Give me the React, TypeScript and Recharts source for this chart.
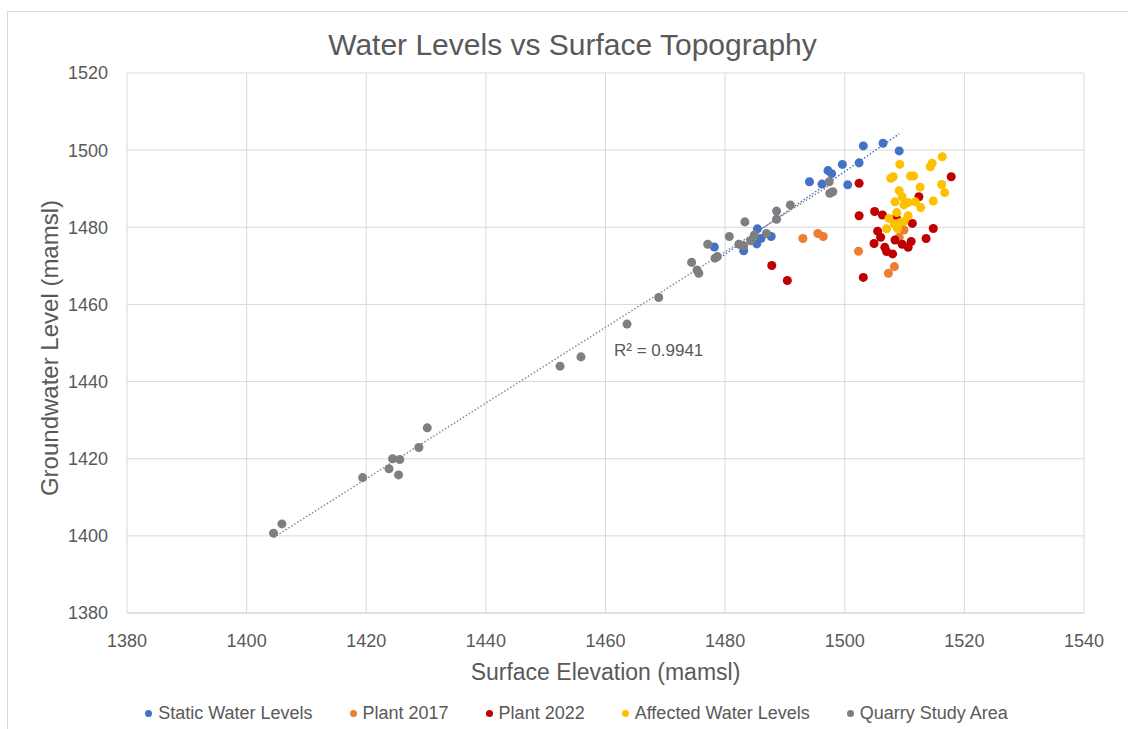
import React from "react";
import {
  ScatterChart,
  Scatter,
  XAxis,
  YAxis,
  ZAxis,
  CartesianGrid,
  ReferenceLine,
} from "recharts";

type Pt = { x: number; y: number };

const xTicks = [1380, 1400, 1420, 1440, 1460, 1480, 1500, 1520, 1540];
const yTicks = [1380, 1400, 1420, 1440, 1460, 1480, 1500, 1520];

const staticWaterLevels: Pt[] = [
  { x: 1478.2, y: 1474.9 }, { x: 1483.1, y: 1473.9 }, { x: 1485.3, y: 1475.7 },
  { x: 1486.0, y: 1477.1 }, { x: 1485.4, y: 1479.6 }, { x: 1487.7, y: 1477.6 },
  { x: 1494.1, y: 1491.8 }, { x: 1496.2, y: 1491.2 }, { x: 1497.2, y: 1494.7 },
  { x: 1497.8, y: 1493.9 }, { x: 1499.6, y: 1496.3 }, { x: 1500.5, y: 1491.0 },
  { x: 1502.4, y: 1496.7 }, { x: 1503.1, y: 1501.1 }, { x: 1506.4, y: 1501.8 },
  { x: 1509.1, y: 1499.8 },
];

const plant2017: Pt[] = [
  { x: 1493.0, y: 1477.1 }, { x: 1495.5, y: 1478.4 }, { x: 1496.4, y: 1477.6 },
  { x: 1502.3, y: 1473.8 }, { x: 1508.3, y: 1469.8 }, { x: 1507.3, y: 1468.1 },
  { x: 1509.9, y: 1479.3 }, { x: 1509.1, y: 1477.4 },
];

const plant2022: Pt[] = [
  { x: 1487.8, y: 1470.1 }, { x: 1490.4, y: 1466.2 }, { x: 1502.4, y: 1491.4 },
  { x: 1517.8, y: 1493.1 }, { x: 1512.4, y: 1487.9 }, { x: 1502.4, y: 1483.0 },
  { x: 1505.0, y: 1484.1 }, { x: 1506.3, y: 1483.2 }, { x: 1508.6, y: 1482.5 },
  { x: 1511.3, y: 1481.0 }, { x: 1514.8, y: 1479.7 }, { x: 1505.5, y: 1479.0 },
  { x: 1506.0, y: 1477.4 }, { x: 1508.4, y: 1476.7 }, { x: 1504.9, y: 1475.8 },
  { x: 1509.6, y: 1475.6 }, { x: 1511.1, y: 1476.3 }, { x: 1510.6, y: 1474.8 },
  { x: 1513.6, y: 1477.1 }, { x: 1506.7, y: 1474.8 }, { x: 1507.0, y: 1473.7 },
  { x: 1508.0, y: 1473.1 }, { x: 1503.1, y: 1467.0 },
];

const affectedWaterLevels: Pt[] = [
  { x: 1516.3, y: 1498.3 }, { x: 1509.2, y: 1496.3 }, { x: 1514.6, y: 1496.6 },
  { x: 1514.3, y: 1495.7 }, { x: 1507.7, y: 1492.7 }, { x: 1508.1, y: 1493.1 },
  { x: 1511.0, y: 1493.3 }, { x: 1511.5, y: 1493.3 }, { x: 1512.6, y: 1490.4 },
  { x: 1516.2, y: 1491.1 }, { x: 1516.7, y: 1489.0 }, { x: 1509.1, y: 1489.5 },
  { x: 1509.6, y: 1487.9 }, { x: 1510.6, y: 1486.4 }, { x: 1511.8, y: 1486.6 },
  { x: 1508.4, y: 1486.6 }, { x: 1514.8, y: 1486.8 }, { x: 1512.7, y: 1485.1 },
  { x: 1509.9, y: 1485.8 }, { x: 1508.7, y: 1483.8 }, { x: 1510.6, y: 1483.0 },
  { x: 1507.4, y: 1482.3 }, { x: 1508.3, y: 1480.9 }, { x: 1509.2, y: 1481.2 },
  { x: 1509.9, y: 1481.5 }, { x: 1507.0, y: 1479.6 }, { x: 1508.8, y: 1479.7 },
];

const quarryStudyArea: Pt[] = [
  { x: 1404.5, y: 1400.7 }, { x: 1405.9, y: 1403.1 }, { x: 1419.4, y: 1415.1 },
  { x: 1423.8, y: 1417.4 }, { x: 1424.4, y: 1420.0 }, { x: 1425.6, y: 1419.8 },
  { x: 1425.4, y: 1415.8 }, { x: 1428.8, y: 1422.9 }, { x: 1430.2, y: 1428.0 },
  { x: 1452.4, y: 1444.0 }, { x: 1455.9, y: 1446.4 }, { x: 1463.6, y: 1454.9 },
  { x: 1468.9, y: 1461.8 }, { x: 1474.4, y: 1470.9 }, { x: 1475.3, y: 1468.9 },
  { x: 1475.6, y: 1468.1 }, { x: 1477.1, y: 1475.6 }, { x: 1478.3, y: 1472.0 },
  { x: 1478.7, y: 1472.4 }, { x: 1480.7, y: 1477.6 }, { x: 1482.3, y: 1475.6 },
  { x: 1483.1, y: 1475.2 }, { x: 1484.3, y: 1476.5 }, { x: 1484.9, y: 1478.0 },
  { x: 1486.9, y: 1478.4 }, { x: 1483.3, y: 1481.4 }, { x: 1488.6, y: 1482.1 },
  { x: 1488.6, y: 1484.2 }, { x: 1490.9, y: 1485.8 }, { x: 1497.4, y: 1491.8 },
  { x: 1497.5, y: 1488.8 }, { x: 1498.0, y: 1489.2 },
];

const series = [
  { name: "Static Water Levels", color: "#4472C4", data: staticWaterLevels },
  { name: "Plant 2017", color: "#ED7D31", data: plant2017 },
  { name: "Plant 2022", color: "#C00000", data: plant2022 },
  { name: "Affected Water Levels", color: "#FFC000", data: affectedWaterLevels },
  { name: "Quarry Study Area", color: "#7F7F7F", data: quarryStudyArea },
];

function fit(data: Pt[]) {
  const n = data.length;
  const mx = data.reduce((s, p) => s + p.x, 0) / n;
  const my = data.reduce((s, p) => s + p.y, 0) / n;
  let sxy = 0;
  let sxx = 0;
  data.forEach((p) => {
    sxy += (p.x - mx) * (p.y - my);
    sxx += (p.x - mx) * (p.x - mx);
  });
  const b = sxy / sxx;
  const a = my - b * mx;
  const xs = data.map((p) => p.x);
  const x0 = Math.min(...xs);
  const x1 = Math.max(...xs);
  return [
    { x: x0, y: a + b * x0 },
    { x: x1, y: a + b * x1 },
  ];
}

const grayTrend = fit(quarryStudyArea);
const blueTrend = fit(staticWaterLevels);

const FONT = "'Liberation Sans', Arial, sans-serif";
const TEXT = "#595959";

export default function App() {
  return (
    <div
      style={{
        position: "fixed",
        left: 0,
        top: 0,
        width: 1128,
        height: 729,
        overflow: "hidden",
        background: "#fff",
        fontFamily: FONT,
      }}
    >
      <div
        style={{
          position: "absolute",
          left: 7,
          top: 11,
          width: 1200,
          height: 800,
          border: "1px solid #d9d9d9",
        }}
      />
      <div style={{ position: "absolute", left: 0, top: 0 }}>
        <ScatterChart
          width={1128}
          height={729}
          margin={{ top: 73, right: 44, bottom: 86, left: 67 }}
        >
          <CartesianGrid stroke="#d9d9d9" strokeWidth={1} />
          <XAxis
            type="number"
            dataKey="x"
            domain={[1380, 1540]}
            ticks={xTicks}
            allowDataOverflow
            height={30}
            tickLine={false}
            axisLine={{ stroke: "#d9d9d9" }}
            tickSize={6}
            tickMargin={15}
            tick={{ fill: TEXT, fontSize: 18, fontFamily: FONT }}
          />
          <YAxis
            type="number"
            dataKey="y"
            domain={[1380, 1520]}
            ticks={yTicks}
            allowDataOverflow
            width={60}
            tickLine={false}
            axisLine={false}
            tickSize={6}
            tickMargin={13}
            tick={{ fill: TEXT, fontSize: 18, fontFamily: FONT }}
          />
          <ZAxis range={[64, 64]} />
          {series.map((s) => (
            <Scatter
              key={s.name}
              name={s.name}
              data={s.data}
              fill={s.color}
              isAnimationActive={false}
            />
          ))}
          <ReferenceLine
            segment={grayTrend}
            stroke="#8c8c8c"
            strokeWidth={1.5}
            strokeDasharray="1.5 2"
            ifOverflow="visible"
          />
          <ReferenceLine
            segment={blueTrend}
            stroke="#4472C4"
            strokeWidth={1.5}
            strokeDasharray="1.5 2"
            ifOverflow="visible"
          />
        </ScatterChart>
      </div>
      <div
        style={{
          position: "absolute",
          left: 0,
          width: 1145,
          top: 27,
          textAlign: "center",
          fontSize: 30,
          color: TEXT,
          lineHeight: "36px",
        }}
      >
        Water Levels vs Surface Topography
      </div>
      <div
        style={{
          position: "absolute",
          left: 0,
          width: 1211,
          top: 658,
          textAlign: "center",
          fontSize: 23,
          color: TEXT,
          lineHeight: "28px",
        }}
      >
        Surface Elevation (mamsl)
      </div>
      <div
        style={{
          position: "absolute",
          left: 50,
          top: 348,
          width: 0,
          height: 0,
        }}
      >
        <div
          style={{
            position: "absolute",
            left: -200,
            top: -15,
            width: 400,
            textAlign: "center",
            fontSize: 24,
            lineHeight: "30px",
            color: TEXT,
            transform: "rotate(-90deg)",
            whiteSpace: "nowrap",
          }}
        >
          Groundwater Level (mamsl)
        </div>
      </div>
      <div
        style={{
          position: "absolute",
          left: 614,
          top: 341,
          fontSize: 17,
          lineHeight: "20px",
          color: TEXT,
          whiteSpace: "nowrap",
        }}
      >
        R² = 0.9941
      </div>
      <div
        style={{
          position: "absolute",
          left: 0,
          width: 1153,
          top: 702,
          display: "flex",
          justifyContent: "center",
          gap: 37,
          fontSize: 18,
          lineHeight: "22px",
          color: TEXT,
        }}
      >
        {series.map((s) => (
          <div
            key={s.name}
            style={{ display: "flex", alignItems: "center", whiteSpace: "nowrap" }}
          >
            <span
              style={{
                display: "inline-block",
                width: 7,
                height: 7,
                borderRadius: "50%",
                background: s.color,
                marginRight: 6,
              }}
            />
            {s.name}
          </div>
        ))}
      </div>
    </div>
  );
}
